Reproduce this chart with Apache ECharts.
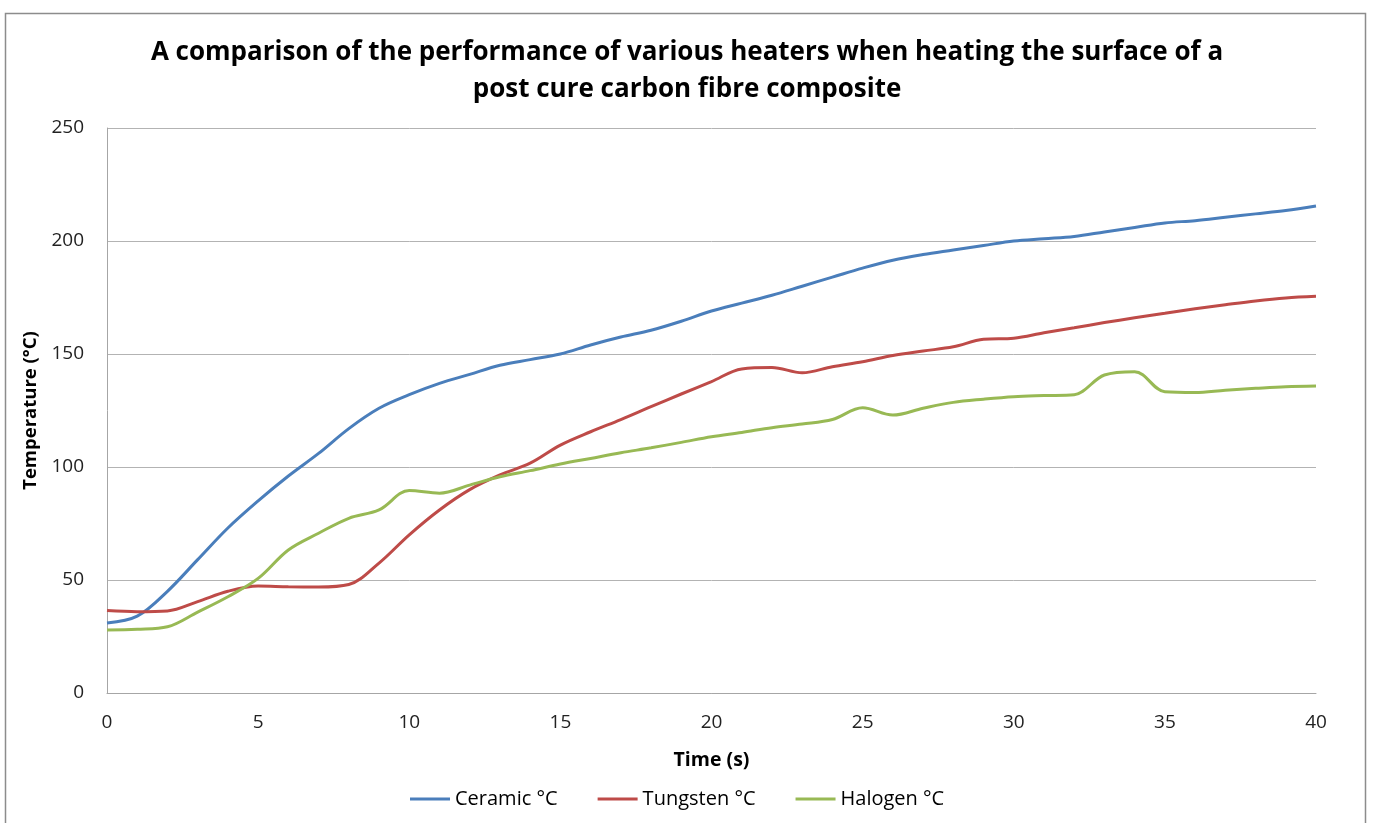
<!DOCTYPE html>
<html><head><meta charset="utf-8">
<script src="https://cdn.jsdelivr.net/npm/echarts@6/dist/echarts.min.js"></script>
<style>html,body{margin:0;padding:0;background:#fff}#c{width:1374px;height:823px}</style>
</head><body><div id="c"></div>
<script>
const times = [0,1,2,3,4,5,6,7,8,9,10,11,12,13,14,15,16,17,18,19,20,21,22,23,24,25,26,27,28,29,30,31,32,33,34,35,36,37,38,39,40];
const ceramic = [31,34,45,59,73,85,96,106,117,126,132,137,141,145,147.5,150,154,157.5,160.5,164.5,169,172.5,176,180,184,188,191.5,194,196,198,200,201,202,204,206,208,209,210.5,212,213.5,215.5];
const tungsten = [36.5,36,36.3,40.4,45,47.3,47,46.9,48,57.5,70,81,90,96.5,101.7,109.7,115.6,121,126.7,132.3,137.8,143.4,144,141.7,144.4,146.6,149.3,151.3,153.2,156.5,157,159.4,161.6,163.9,166,168,170,171.8,173.5,174.8,175.5];
const halogen = [27.9,28.2,29.3,35.8,42.6,50.7,63.3,70.7,77.3,81,89.6,88.4,92,95.7,98.4,101.3,103.8,106.3,108.5,110.9,113.4,115.3,117.4,119,121,126.2,123,126,128.6,130,131.1,131.6,132,140.7,142.2,133.3,133,134,134.8,135.5,135.8];
const seriesNames = ['Ceramic °C','Tungsten °C','Halogen °C'];
const colors = ['#4a7ebb','#be4b48','#98b954'];
const titleText = 'A comparison of the performance of various heaters when heating the surface of a\npost cure carbon fibre composite';

const chart = echarts.init(document.getElementById('c'));
const font = 'Open Sans';
function mk(name, vals, color){
  return {name, type:'line', data: times.map((t,i)=>[t, vals[i]]), smooth:0.35, symbol:'none',
    lineStyle:{width:3, color}, itemStyle:{color}};
}
chart.setOption({
  animation:false,
  graphic:[{type:'rect', shape:{x:5.5,y:13.5,width:1360,height:830}, style:{fill:'none', stroke:'#8c8c8c', lineWidth:1.5}, z:-1}],
  title:{text:titleText, left:'center', top:29, textStyle:{fontFamily:font, fontWeight:'bold', fontSize:26, color:'#000', lineHeight:37}},
  grid:{left:107, right:58, top:128, bottom:130},
  legend:{bottom:9, left:405, itemWidth:40, itemHeight:3, itemGap:40, icon:'rect',
    textStyle:{fontFamily:font, fontSize:20, color:'#000'}, data:seriesNames},
  xAxis:{type:'value', min:0, max:40, interval:5, name:'Time (s)', nameLocation:'middle', nameGap:57,
    nameTextStyle:{fontFamily:font, fontWeight:'bold', fontSize:19.5, color:'#000'},
    axisLine:{lineStyle:{color:'#a6a6a6', width:1}}, axisTick:{show:false},
    axisLabel:{fontFamily:font, fontSize:19, color:'#222', margin:20}, splitLine:{show:false}},
  yAxis:{type:'value', min:0, max:250, interval:50, name:'Temperature (°C)', nameLocation:'middle', nameGap:67,
    nameTextStyle:{fontFamily:font, fontWeight:'bold', fontSize:18.5, color:'#000'},
    axisLine:{show:true, lineStyle:{color:'#a6a6a6', width:1}}, axisTick:{show:false},
    axisLabel:{fontFamily:font, fontSize:19, color:'#222', margin:23},
    splitLine:{lineStyle:{color:'#b3b3b3', width:1}}},
  series:[mk(seriesNames[0], ceramic, colors[0]), mk(seriesNames[1], tungsten, colors[1]), mk(seriesNames[2], halogen, colors[2])]
});
</script></body></html>
